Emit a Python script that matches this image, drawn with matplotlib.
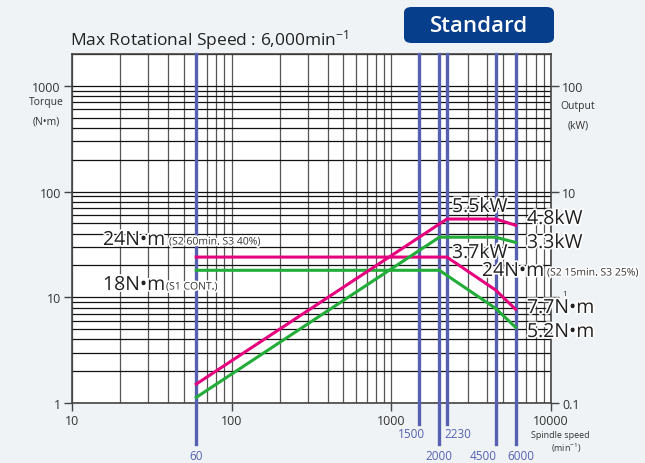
import numpy as np
import matplotlib.pyplot as plt
from matplotlib.patches import FancyBboxPatch
import matplotlib.patheffects as pe

plt.rcParams['font.family'] = ['Open Sans', 'DejaVu Sans']
plt.rcParams['mathtext.fontset'] = 'custom'
plt.rcParams['mathtext.rm'] = 'Open Sans'
plt.rcParams['mathtext.default'] = 'regular'

# curve data (speed in min-1, torque in N·m, output in kW)
speed_s2 = [60, 2230, 4500, 6000]
torque_s2 = [24, 24, 11.7, 7.7]
power_s2 = [0.151, 5.5, 5.5, 4.8]

speed_s1 = [60, 2000, 4500, 6000]
torque_s1 = [18, 18, 7.85, 5.2]
power_s1 = [0.113, 3.7, 3.7, 3.3]

marker_speeds_low = [60, 2000, 4500, 6000]
marker_speeds_high = [1500, 2230]

x_ticks = [10, 100, 1000, 10000]
torque_ticks = [1, 10, 100, 1000]
power_ticks = [0.1, 1, 10, 100]

pink = '#e5007e'
green = '#22ac38'
blue = '#5561b0'
txt = '#333333'
bg = '#eff3f5'

fig = plt.figure(figsize=(6.45, 4.64), dpi=100, facecolor=bg)
ax = fig.add_axes([72 / 645, 60 / 464, 479 / 645, 349 / 464])
ax.set_facecolor('white')
ax.set_xscale('log')
ax.set_yscale('log')
ax.set_xlim(10, 10000)
ax.set_ylim(1, 2000)

ax.grid(True, which='both', axis='x', color='#555555', lw=0.9)
ax.grid(True, which='both', axis='y', color='#111111', lw=0.9)
ax.set_axisbelow(True)
for s in ax.spines.values():
    s.set_color('#444444')
    s.set_linewidth(1.2)

ax.set_xticks(x_ticks)
ax.set_xticklabels([str(v) for v in x_ticks])
ax.set_yticks(torque_ticks)
ax.set_yticklabels([str(v) for v in torque_ticks])
ax.tick_params(which='minor', length=0)
ax.tick_params(which='major', length=6, width=1, color='#444444', labelsize=9,
               labelcolor=txt, pad=2)
ax.xaxis.set_minor_formatter(plt.NullFormatter())
ax.yaxis.set_minor_formatter(plt.NullFormatter())

# blue marker lines, extending below the axis
tr = ax.get_xaxis_transform()
label_shift = {60: 0, 2000: 0, 4500: -9, 6000: 4, 1500: -6, 2230: 8}
for s in marker_speeds_low:
    ax.plot([s, s], [1, -0.117], transform=tr, color=blue, lw=2.4, clip_on=False, zorder=3)
    ax.annotate(str(s), (s, -0.15), xycoords=tr, xytext=(label_shift[s], 0),
                textcoords='offset points', ha='center', va='center', fontsize=8.5,
                color=blue, annotation_clip=False)
for s in marker_speeds_high:
    ax.plot([s, s], [1, -0.06], transform=tr, color=blue, lw=2.4, clip_on=False, zorder=3)
    ax.annotate(str(s), (s, -0.087), xycoords=tr, xytext=(label_shift[s], 0),
                textcoords='offset points', ha='center', va='center', fontsize=8.5,
                color=blue, annotation_clip=False)

ax.plot(speed_s2, torque_s2, color=pink, lw=2.2, zorder=4)
ax.plot(speed_s1, torque_s1, color=green, lw=2.2, zorder=4)

ax2 = ax.twinx()
ax2.set_yscale('log')
ax2.set_ylim(0.1, 200)
ax2.set_yticks(power_ticks)
ax2.set_yticklabels(['0.1', '1', '10', '100'])
ax2.tick_params(which='minor', length=0)
ax2.tick_params(which='major', length=6, width=1, color='#444444', labelsize=9,
                labelcolor=txt, pad=2)
ax2.yaxis.set_minor_formatter(plt.NullFormatter())
one = ax2.get_yticklabels()[1]
one.set_fontsize(6)
one.set_va('bottom')
for s in ax2.spines.values():
    s.set_visible(False)
ax2.plot(speed_s2, power_s2, color=pink, lw=2.2, zorder=4)
ax2.plot(speed_s1, power_s1, color=green, lw=2.2, zorder=4)


def px(x, y):
    return x / 645, 1 - y / 464


halo = [pe.withStroke(linewidth=2.5, foreground='white')]

fig.text(*px(70, 40), 'Max Rotational Speed : 6,000min$^{-1}$', fontsize=12.5,
         color='#222222', va='center', ha='left')

box = FancyBboxPatch((404 / 645, 1 - 44 / 464), 150 / 645, 36 / 464,
                     boxstyle='round,pad=0,rounding_size=0.012',
                     transform=fig.transFigure, facecolor='#073e8c', edgecolor='none')
fig.patches.append(box)
fig.text(*px(479, 26), 'Standard', fontsize=16, fontweight='semibold', color='white',
         ha='center', va='center')

fig.text(*px(46, 103), 'Torque', fontsize=7.5, color=txt, ha='center', va='center')
fig.text(*px(46, 122), '(N•m)', fontsize=7.5, color=txt, ha='center', va='center')
fig.text(*px(578, 106), 'Output', fontsize=7.5, color=txt, ha='center', va='center')
fig.text(*px(578, 126), '(kW)', fontsize=7.5, color=txt, ha='center', va='center')
fig.text(*px(560, 436), 'Spindle speed', fontsize=6.5, color=txt, ha='center', va='center')
fig.text(*px(566, 448), '(min$^{-1}$)', fontsize=6.5, color=txt, ha='center', va='center')

big = 14
small = 7.5
for x, y, s in [(103, 241, '24N•m'), (103, 286, '18N•m'), (452, 208, '5.5kW'),
                (527, 220, '4.8kW'), (452, 254, '3.7kW'), (527, 244, '3.3kW'),
                (482, 272, '24N•m'), (527, 309, '7.7N•m'), (527, 333, '5.2N•m')]:
    fig.text(*px(x, y), s, fontsize=big, color='#222222', ha='left', va='center',
             path_effects=halo)
for x, y, s in [(169, 243, '(S2 60min. S3 40%)'), (166, 288, '(S1 CONT.)'),
                (547, 274, '(S2 15min. S3 25%)')]:
    fig.text(*px(x, y), s, fontsize=small, color=txt, ha='left', va='center',
             path_effects=halo)

fig.savefig('out.png', dpi=100, facecolor=bg)
